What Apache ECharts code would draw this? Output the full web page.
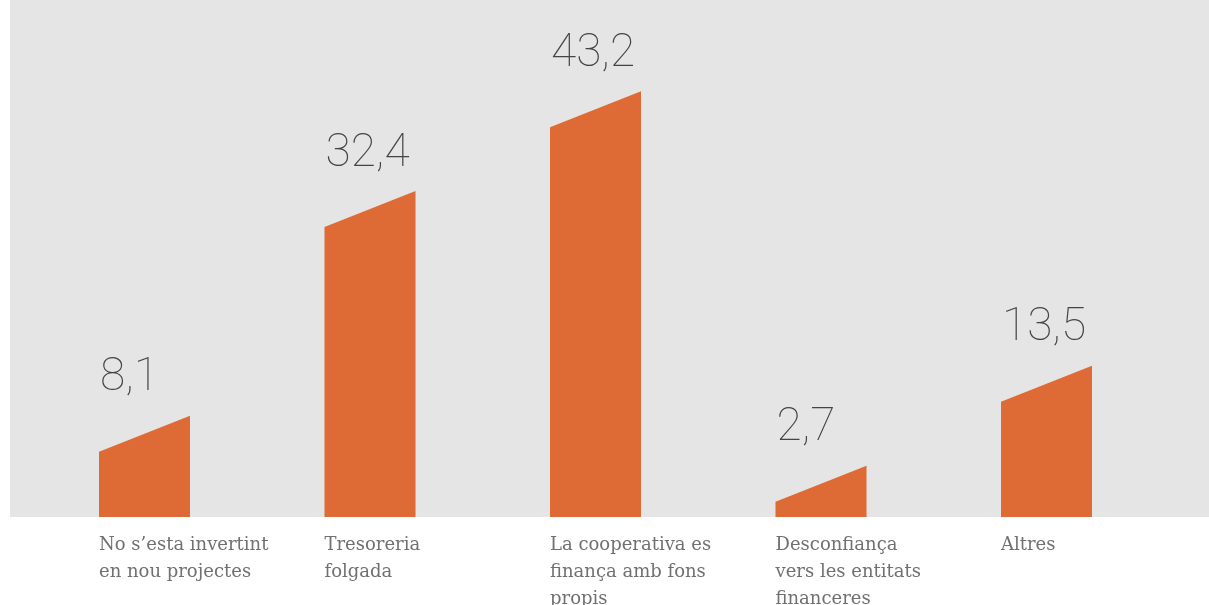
<!DOCTYPE html>
<html>
<head>
<meta charset="utf-8">
<script src="https://cdn.jsdelivr.net/npm/echarts@6/dist/echarts.min.js"></script>
<style>
  html, body { margin: 0; padding: 0; background: #fff; }
  #chart { width: 1209px; height: 605px; }
</style>
</head>
<body>
<div id="chart"></div>
<script>
// categories and values
const categories = [
  "No s\u2019esta invertint\nen nou projectes",
  "Tresoreria\nfolgada",
  "La cooperativa es\nfinança amb fons\npropis",
  "Desconfiança\nvers les entitats\nfinanceres",
  "Altres"
];
const values = [8.1, 32.4, 43.2, 2.7, 13.5];

const chart = echarts.init(document.getElementById('chart'));

const barColor = '#de6b35';
const barW = 91;
const slant = 36;

function fmt(v) {
  return String(v).replace('.', ',');
}

const option = {
  animation: false,
  graphic: [{
    type: 'rect',
    z: -10,
    shape: { x: 10, y: 0, width: 1199, height: 517 },
    style: { fill: '#e5e5e5' }
  }],
  grid: { left: 31.75, width: 1127.5, top: 0, bottom: 88 },
  xAxis: {
    type: 'category',
    data: categories,
    show: false
  },
  yAxis: {
    type: 'value',
    min: -2.85,
    max: 53.07,
    show: false
  },
  series: [{
    type: 'custom',
    data: values.map((v, i) => [i, v]),
    renderItem: function (params, api) {
      const i = api.value(0);
      const top = api.coord([i, api.value(1)]);
      const base = api.coord([i, -2.85]);
      const x0 = top[0] - barW / 2;
      const x1 = top[0] + barW / 2;
      return {
        type: 'group',
        children: [{
          type: 'polygon',
          shape: {
            points: [[x0, base[1]], [x0, Math.min(top[1] + slant, base[1])], [x1, top[1]], [x1, base[1]]]
          },
          style: { fill: barColor }
        }, {
          type: 'text',
          style: {
            text: fmt(api.value(1)),
            x: x0 + 1,
            y: top[1] - 14,
            align: 'left',
            verticalAlign: 'bottom',
            font: '100 46px Roboto',
            fill: '#444'
          }
        }, {
          type: 'text',
          style: {
            text: categories[i],
            x: x0,
            y: base[1] + 15,
            align: 'left',
            verticalAlign: 'top',
            font: '18px "DejaVu Serif"',
            lineHeight: 27,
            fill: '#707070'
          }
        }]
      };
    }
  }]
};

chart.setOption(option);
</script>
</body>
</html>
